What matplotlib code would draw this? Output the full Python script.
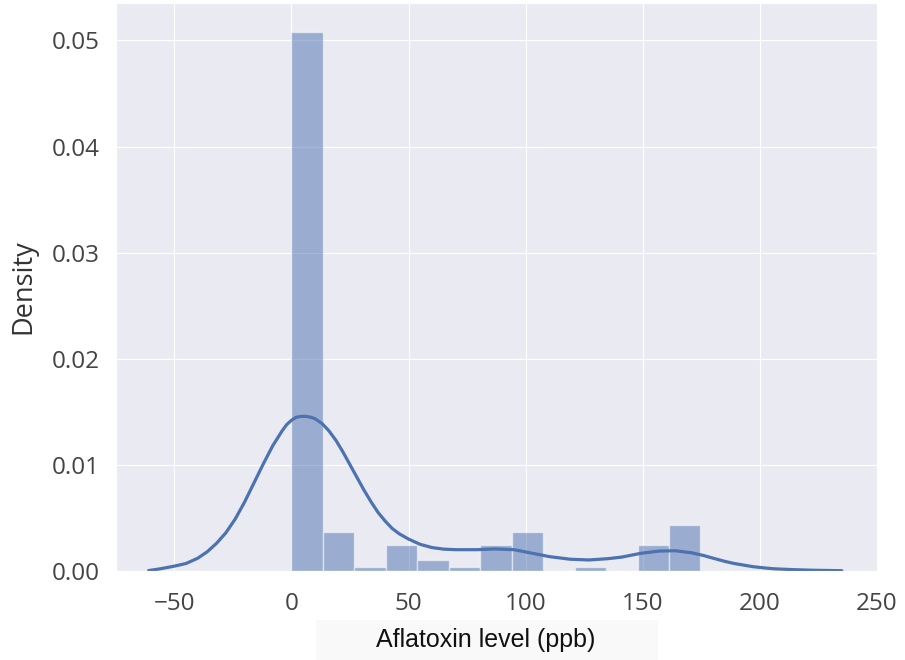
import numpy as np
import matplotlib
matplotlib.use('Agg')
import matplotlib.pyplot as plt
from matplotlib.patches import Rectangle
import seaborn as sns

# histogram bins (ppb) and densities
bin_edges = [0, 13.4, 26.9, 40.3, 53.7, 67.2, 80.6, 94.0, 107.5,
             120.9, 134.3, 147.8, 161.2, 174.6]
bin_density = [0.0508, 0.0037, 0.00035, 0.0024, 0.00105, 0.00035, 0.0024,
               0.0037, 0.0, 0.00035, 0.0, 0.0024, 0.0043]

# KDE curve points
kde_x = [-61, -56, -50, -45, -40, -36, -32, -28, -24, -20, -16, -12, -8, -4,
         -2, 0, 2, 4, 6, 8, 10, 13, 16, 19, 22, 25, 28, 31, 34, 37, 40, 43,
         46, 50, 55, 60, 65, 70, 79, 87, 95, 102, 110, 119, 127, 135, 141,
         149, 157, 164, 171, 176, 180, 185, 189, 193, 197, 202, 206, 214,
         223, 235]
kde_y = [0.00003, 0.0002, 0.00045, 0.0007, 0.0012, 0.0018, 0.0026, 0.0036,
         0.0049, 0.0065, 0.0083, 0.0101, 0.0118, 0.0132, 0.0138, 0.0142,
         0.01448, 0.01456, 0.01457, 0.0145, 0.01435, 0.0139, 0.0132, 0.0123,
         0.0112, 0.0100, 0.0088, 0.0076, 0.0065, 0.0055, 0.0047, 0.0040,
         0.0035, 0.0030, 0.0025, 0.0022, 0.00205, 0.0020, 0.0020, 0.00207,
         0.0020, 0.0017, 0.00135, 0.0011, 0.00103, 0.00115, 0.0013, 0.00165,
         0.00187, 0.0019, 0.0017, 0.00145, 0.0012, 0.0009, 0.0007, 0.00055,
         0.0004, 0.00028, 0.0002, 0.00012, 0.00006, 0.00002]

x_ticks = [-50, 0, 50, 100, 150, 200, 250]
y_ticks = [0.00, 0.01, 0.02, 0.03, 0.04, 0.05]

sns.set_style('darkgrid')
plt.rcParams['font.family'] = ['Open Sans', 'DejaVu Sans']

blue = '#4c72b0'

fig = plt.figure(figsize=(9.05, 6.6), dpi=100)
ax = fig.add_axes([0.128, 0.135, 0.841, 0.86])

# faint box behind the x label, as in the source image
fig.patches.append(Rectangle((316 / 905, 0), 342 / 905, 40 / 660,
                             transform=fig.transFigure, facecolor='#f9f9f9',
                             edgecolor='none', zorder=-1))

widths = np.diff(bin_edges)
ax.bar(bin_edges[:-1], bin_density, width=widths, align='edge',
       color=blue, alpha=0.5, edgecolor='white', linewidth=1.0)
ax.plot(kde_x, kde_y, color=blue, linewidth=2.3,
        solid_joinstyle='round', solid_capstyle='round')

ax.set_xlim(-75, 249.5)
ax.set_ylim(0, 0.0535)
ax.set_xticks(x_ticks)
ax.set_xticklabels([('\u2212' + str(-t)) if t < 0 else str(t) for t in x_ticks])
ax.set_yticks(y_ticks)
ax.set_yticklabels([f'{t:.2f}' for t in y_ticks])
ax.tick_params(axis='x', labelsize=17.5, labelcolor='#444444', pad=12)
ax.tick_params(axis='y', labelsize=17.5, labelcolor='#444444', pad=8)

ax.set_ylabel('Density', fontsize=19.5, color='#333333', labelpad=10)
ax.set_xlabel('Aflatoxin level (ppb)', fontsize=18, color='#111111',
              family=['Liberation Sans', 'DejaVu Sans'])
ax.xaxis.set_label_coords(0.486, -0.1)

plt.savefig('out.png', dpi=100)
plt.close()
